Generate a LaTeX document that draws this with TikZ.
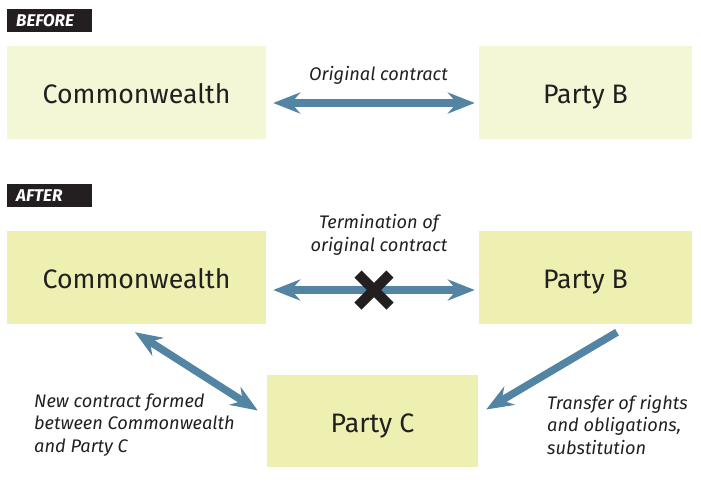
\documentclass[tikz,border=0pt]{standalone}
\usepackage{fontspec}
\setmainfont{Fira Sans}
\usetikzlibrary{arrows.meta,calc}
\definecolor{arrowblue}{HTML}{5384A4}
\definecolor{boxlight}{HTML}{F4F7D6}
\definecolor{boxdark}{HTML}{EEF0B1}
\definecolor{inkdark}{HTML}{231F20}
\begin{document}
\begin{tikzpicture}[x=1pt,y=-1pt,
  party/.style={inner sep=0pt, minimum height=93pt, text=inkdark,
    text height=22pt, text depth=0pt,
    font=\fontsize{26.7}{32}\selectfont},
  tag/.style={fill=inkdark, text=white, inner xsep=9pt, inner ysep=0pt,
    minimum height=23pt, text width=67pt, align=left,
    font=\fontsize{17}{20}\selectfont\bfseries\itshape},
  lbl/.style={inner sep=0pt, text=inkdark,
    font=\fontsize{18.2}{22.5}\selectfont\itshape},
  link/.style={draw=arrowblue, line width=7.5pt,
    arrows={-Stealth[length=27pt, width=21pt, inset=9pt]}},
  biglink/.style={link, arrows={Stealth[length=27pt, width=21pt, inset=9pt]-Stealth[length=27pt, width=21pt, inset=9pt]}},
  cross/.style={draw=inkdark, line width=10pt}
]
\useasboundingbox (0,0) rectangle (701,483);
% BEFORE
\node[tag, anchor=west] (tagb) at (7,20.5) {BEFORE};
\node[party, fill=boxlight, minimum width=259pt] (cw1) at (136.5,92.5) {Commonwealth};
\node[party, fill=boxlight, minimum width=213pt] (pb1) at (585.5,92.5) {Party B};
\draw[biglink] ($(cw1.east)+(7,10.5)$) -- ($(pb1.west)+(-4,10.5)$);
\node[lbl] (oc) at (378.5,75) {Original contract};
% AFTER
\node[tag, anchor=west] (taga) at (7,195.5) {AFTER};
\node[party, fill=boxdark, minimum width=259pt] (cw2) at (136.5,277.5) {Commonwealth};
\node[party, fill=boxdark, minimum width=213pt] (pb2) at (585.5,277.5) {Party B};
\node[party, fill=boxdark, minimum width=211pt, minimum height=92pt] (pc) at (372.5,421) {Party C};
\draw[biglink] ($(cw2.east)+(7,12.5)$) -- coordinate (mid) ($(pb2.west)+(-4,12.5)$);
\draw[cross] ($(mid)+(-16,-16)$) -- ($(mid)+(16,16)$);
\draw[cross] ($(mid)+(-16,16)$) -- ($(mid)+(16,-16)$);
\node[lbl, align=center] (term) at (379,235) {Termination of\\original contract};
\draw[biglink] ($(cw2.south)+(-1.5,8)$) -- ($(pc.west)+(-9,-10.5)$);
\draw[link] ($(pb2.south)+(31.5,8)$) -- ($(pc.east)+(8,-11.5)$);
\node[lbl, align=left, anchor=west] (newc) at (34,425) {New contract formed\\between Commonwealth\\and Party C};
\node[lbl, align=left, anchor=west] (trans) at (547,425) {Transfer of rights\\and obligations,\\substitution};
\end{tikzpicture}
\end{document}
